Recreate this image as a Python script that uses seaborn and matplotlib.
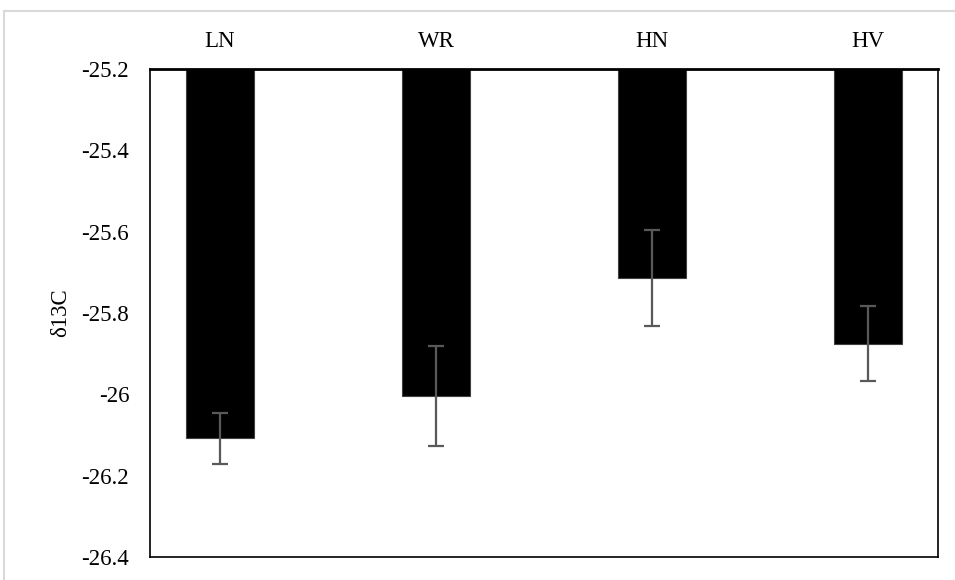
import matplotlib
matplotlib.use("Agg")
import matplotlib.pyplot as plt
import matplotlib.ticker as mticker
from matplotlib.lines import Line2D
import pandas as pd
import seaborn as sns

# ── data ──────────────────────────────────────────────────────────────────────
sites  = ["LN", "WR", "HN", "HV"]
d13c   = [-26.108, -26.005, -25.715, -25.875]
errors = [0.063, 0.123, 0.118, 0.091]
yticks = [-26.4, -26.2, -26.0, -25.8, -25.6, -25.4, -25.2]

df = pd.DataFrame({"site": sites, "d13c": d13c})

sns.set_theme(style="white")
plt.rcParams["font.family"] = ["Liberation Serif", "DejaVu Serif"]

fig = plt.figure(figsize=(9.55, 5.8), dpi=100)
ax = fig.add_axes([150/955, 1 - 557/580, (938 - 150)/955, (557 - 69)/580])

# bars drawn from 0, so they hang from the top of the clipped axis
sns.barplot(data=df, x="site", y="d13c", ax=ax, color="black", width=0.315,
            edgecolor="#404040", linewidth=0.8, errorbar=None, saturation=1)
ax.errorbar(range(len(sites)), d13c, yerr=errors, fmt="none",
            ecolor="#595959", elinewidth=1.6, capsize=6, capthick=1.6)

ax.set_ylim(-26.4, -25.2)
ax.set_yticks(yticks)
ax.yaxis.set_major_formatter(mticker.FuncFormatter(lambda v, p: f"{v:g}"))
ax.xaxis.tick_top()
ax.tick_params(axis="x", length=0, pad=12, labelsize=16.5, colors="black")
ax.tick_params(axis="y", length=0, pad=15, labelsize=16.5, colors="black")
ax.set_xlabel("")
ax.set_ylabel("δ13C", fontsize=16.5, color="black")
ax.yaxis.set_label_coords(-79/788, 0.5)

for side in ["left", "right", "bottom"]:
    ax.spines[side].set_color("black")
    ax.spines[side].set_linewidth(1.2)
ax.spines["top"].set_color("black")
ax.spines["top"].set_linewidth(2)

# light frame of the original chart area
fig.add_artist(Line2D([4/955, 4/955], [0, 1 - 11/580], color="#d9d9d9", lw=1.5))
fig.add_artist(Line2D([4/955, 1], [1 - 11/580, 1 - 11/580], color="#d9d9d9", lw=1.5))

fig.savefig("out.png", dpi=100)
